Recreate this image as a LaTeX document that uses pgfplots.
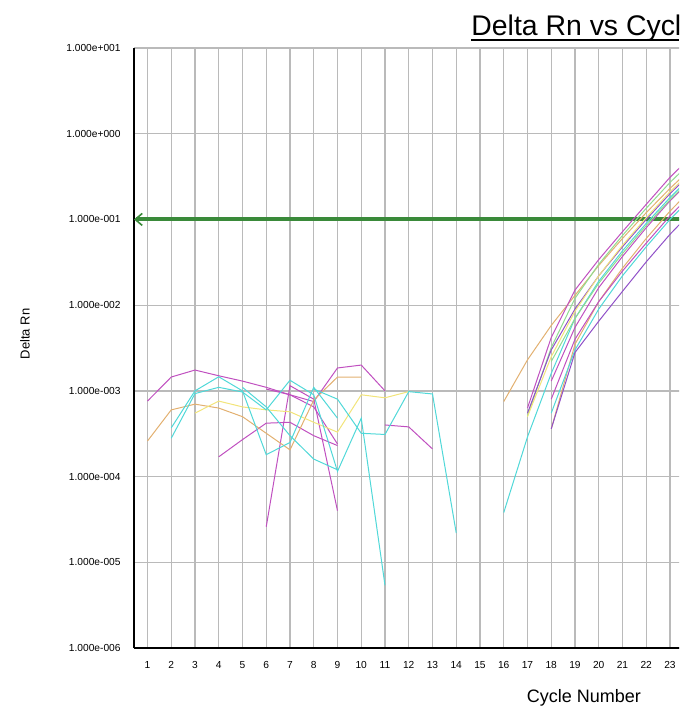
\documentclass[border=0pt]{standalone}
\usepackage{pgfplots}
\pgfplotsset{compat=1.18}
\usepackage{fontspec}
\setmainfont{Liberation Sans}
\usetikzlibrary{arrows.meta}

\definecolor{mag}{HTML}{C050C0}
\definecolor{cya}{HTML}{50D8D8}
\definecolor{yel}{HTML}{F2E47A}
\definecolor{ora}{HTML}{E2B070}
\definecolor{grn}{HTML}{90DC90}
\definecolor{pur}{HTML}{9050C8}
\definecolor{thr}{HTML}{3A8A3A}

\begin{document}
\begin{tikzpicture}
% page = 679 x 711 px, 1 px = 0.5pt, origin top left
\useasboundingbox (0,0) rectangle (339.5pt,-355.5pt);
\clip (0,0) rectangle (339.5pt,-355.5pt);

\begin{axis}[
    at={(67pt,-324pt)}, anchor=south west,
    scale only axis,
    width=285.8pt, height=300pt,
    xmin=0.432, xmax=24.5,
    ymode=log, ymin=1e-6, ymax=10,
    yminorticks=false,
    axis x line*=bottom, axis y line*=left,
    axis line style={black, line width=1.1pt, -},
    grid=major,
    major grid style={draw=black!27, line width=0.65pt},
    major tick length=0pt,
    xtick={1,2,3,4,5,6,7,8,9,10,11,12,13,14,15,16,17,18,19,20,21,22,23,24},
    xticklabels={1,2,3,4,5,6,7,8,9,10,11,12,13,14,15,16,17,18,19,20,21,22,23,},
    ytick={1e-6,1e-5,1e-4,1e-3,1e-2,1e-1,1,10},
    yticklabels={1.000e-006,1.000e-005,1.000e-004,1.000e-003,1.000e-002,1.000e-001,1.000e+000,1.000e+001},
    tick label style={font=\fontsize{5.1}{6}\selectfont},
    yticklabel style={xshift=-3.2pt},
    xticklabel style={yshift=-3pt},
    every axis plot/.append style={line width=0.5pt, no markers},
]

% threshold
\addplot[thr, line width=2pt, {Straight Barb[length=3.5pt,width=6pt,line width=0.8pt]}-] coordinates {(0.432,0.1) (24.5,0.1)};

% early noise
\addplot[mag] coordinates {(1,7.6e-4)(2,1.45e-3)(3,1.75e-3)(4,1.5e-3)(5,1.3e-3)(6,1.1e-3)(7,9e-4)(8,6.5e-4)(9,2.4e-4)};
\addplot[mag] coordinates {(6,2.6e-5)(7,1.15e-3)(8,8e-4)(9,4e-5)};
\addplot[mag] coordinates {(6,1.05e-3)(7,9e-4)(8,7.5e-4)(9,1.85e-3)(10,2e-3)(11,1e-3)};
\addplot[mag] coordinates {(4,1.7e-4)(5,2.7e-4)(6,4.2e-4)(7,4.3e-4)(8,3e-4)(9,2.3e-4)};
\addplot[mag] coordinates {(11,4e-4)(12,3.8e-4)(13,2.1e-4)};
\addplot[ora] coordinates {(1,2.6e-4)(2,6e-4)(3,7e-4)(4,6.3e-4)(5,5e-4)(6,3.2e-4)(7,2.05e-4)(8,7.8e-4)(9,1.45e-3)(10,1.45e-3)};
\addplot[yel] coordinates {(3,5.5e-4)(4,7.6e-4)(5,6.5e-4)(6,6e-4)(7,5.7e-4)(8,4.3e-4)(9,3.3e-4)(10,9e-4)(11,8.3e-4)(12,9.8e-4)};
\addplot[cya] coordinates {(2,3.7e-4)(3,1e-3)(4,1.46e-3)(5,1e-3)(6,1.8e-4)(7,2.5e-4)(8,1.1e-3)(9,4.8e-4)};
\addplot[cya] coordinates {(2,2.8e-4)(3,9.3e-4)(4,1.1e-3)(5,9.7e-4)(6,6e-4)(7,1.33e-3)(8,9e-4)(9,1.15e-4)(10,4.8e-4)(11,5.4e-6)};
\addplot[cya] coordinates {(5,1.1e-3)(6,6.5e-4)(7,3e-4)(8,1.6e-4)(9,1.2e-4)};
\addplot[cya] coordinates {(8,1.05e-3)(9,8e-4)(10,3.2e-4)(11,3.1e-4)(12,9.8e-4)(13,9.2e-4)(14,2.2e-5)};

% amplification
\addplot[ora] coordinates {(16,7.5e-4)(17,2.3e-3)(18,5.8e-3)(19,1.3e-2)(20,2.9e-2)(21,6e-2)(22,1.2e-1)(23,2.3e-1)(24,4.2e-1)};
\addplot[mag] coordinates {(17,6.3e-4)(18,4.2e-3)(19,1.5e-2)(20,3.4e-2)(21,7.2e-2)(22,1.5e-1)(23,3.1e-1)(24,5.8e-1)};
\addplot[grn] coordinates {(17,5.1e-4)(18,3.2e-3)(19,1.2e-2)(20,3e-2)(21,6.5e-2)(22,1.35e-1)(23,2.7e-1)(24,5e-1)};
\addplot[cya] coordinates {(16,3.8e-5)(17,2.9e-4)(18,1.6e-3)(19,7e-3)(20,1.9e-2)(21,4.3e-2)(22,9e-2)(23,1.8e-1)(24,3.4e-1)};
\addplot[pur] coordinates {(17,5.5e-4)(18,3.0e-3)(19,9e-3)(20,2.2e-2)(21,4.8e-2)(22,1e-1)(23,2e-1)(24,3.7e-1)};
\addplot[yel] coordinates {(17,5e-4)(18,2.5e-3)(19,8.5e-3)(20,2.2e-2)(21,5e-2)(22,1.05e-1)(23,2.1e-1)(24,3.9e-1)};
\addplot[mag] coordinates {(18,1.3e-3)(19,5.5e-3)(20,1.6e-2)(21,3.7e-2)(22,8e-2)(23,1.65e-1)(24,3.1e-1)};
\addplot[grn] coordinates {(18,2.2e-3)(19,7e-3)(20,1.8e-2)(21,4e-2)(22,8.5e-2)(23,1.7e-1)(24,3.2e-1)};
\addplot[ora] coordinates {(18,3.6e-4)(19,3.5e-3)(20,1.1e-2)(21,2.7e-2)(22,6e-2)(23,1.25e-1)(24,2.4e-1)};
\addplot[cya] coordinates {(18,5.5e-4)(19,3e-3)(20,9e-3)(21,2.2e-2)(22,4.8e-2)(23,1e-1)(24,1.9e-1)};
\addplot[pur] coordinates {(18,3.6e-4)(19,2.8e-3)(20,6.5e-3)(21,1.45e-2)(22,3.2e-2)(23,6.7e-2)(24,1.3e-1)};
\addplot[mag] coordinates {(18,8e-4)(19,4e-3)(20,1.1e-2)(21,2.5e-2)(22,5.3e-2)(23,1.1e-1)(24,2.1e-1)};
\end{axis}

\node[anchor=base west, inner sep=0pt, font=\fontsize{14.2}{16}\selectfont] at (235.5pt,-18pt) {Delta Rn vs Cycle};
\draw[line width=0.75pt] (235.5pt,-20pt) -- (339.5pt,-20pt);
\node[font=\fontsize{9}{11}\selectfont] at (292pt,-349pt) {Cycle Number};
\node[rotate=90, font=\fontsize{6.5}{8}\selectfont] at (12.5pt,-167pt) {Delta Rn};
\end{tikzpicture}
\end{document}
